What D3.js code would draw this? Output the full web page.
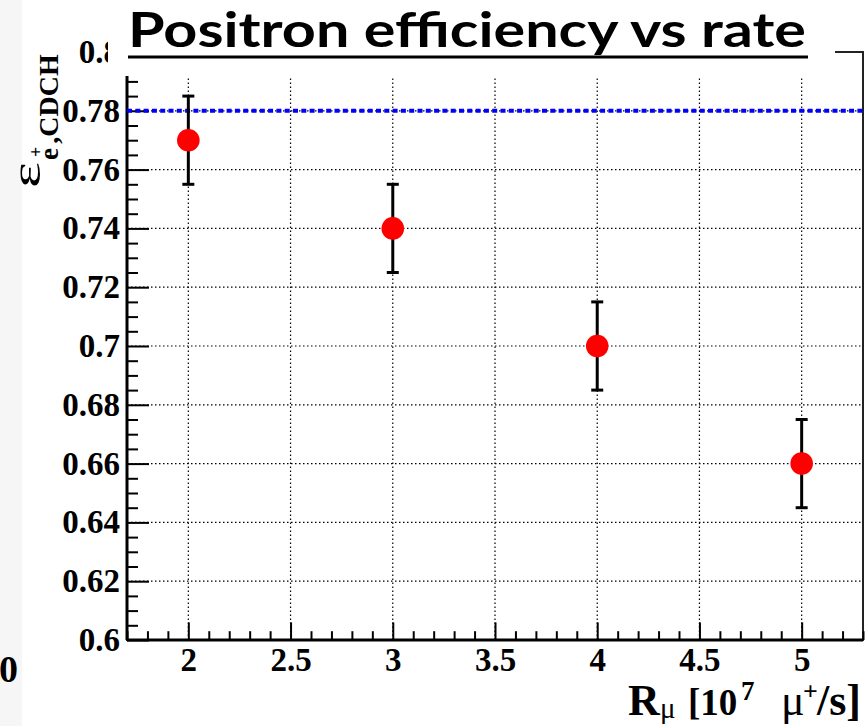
<!DOCTYPE html>
<html><head><meta charset="utf-8">
<script src="https://cdn.jsdelivr.net/npm/d3@7"></script>
<style>
html,body{margin:0;padding:0;background:#fff;}
svg{display:block;}
</style></head>
<body>
<svg id="chart" width="868" height="726"></svg>
<script>
// ---- data ----
const rates = [2, 3, 4, 5];                 // R_mu [10^7 mu+/s]
const efficiencies = [0.77, 0.74, 0.70, 0.66];
const errors = [0.015, 0.015, 0.015, 0.015];
const referenceLevel = [0.78];
const xTickValues = [2, 2.5, 3, 3.5, 4, 4.5, 5];
const xTickLabels = ["2", "2.5", "3", "3.5", "4", "4.5", "5"];
const yTickValues = [0.6, 0.62, 0.64, 0.66, 0.68, 0.7, 0.72, 0.74, 0.76, 0.78, 0.8];
const yTickLabels = ["0.6", "0.62", "0.64", "0.66", "0.68", "0.7", "0.72", "0.74", "0.76", "0.78", "0.8"];
const titleText = "Positron efficiency vs rate";

const svg = d3.select("#chart");
const L = 127, R = 863, T = 52, B = 640;
const x = d3.scaleLinear().domain([1.7, 5.3]).range([L, R]);
const y = d3.scaleLinear().domain([0.6, 0.8]).range([B, T]);
const serif = "'Liberation Serif', 'Times New Roman', serif";

// left slide strip
svg.append("rect").attr("x", 0).attr("y", 0).attr("width", 22).attr("height", 726).attr("fill", "#f6f6f6");

// grid
const grid = svg.append("g").attr("stroke", "#000").attr("stroke-width", 1.2).attr("stroke-dasharray", "1.5,2.5");
grid.selectAll("line.v").data(xTickValues).join("line").attr("class", "v")
  .attr("x1", d => x(d)).attr("x2", d => x(d)).attr("y1", B).attr("y2", T);
grid.selectAll("line.h").data(yTickValues.filter(v => v > 0.6 && v < 0.8)).join("line").attr("class", "h")
  .attr("y1", d => y(d)).attr("y2", d => y(d)).attr("x1", L).attr("x2", R);

// frame (top/right)
svg.append("rect").attr("x", L).attr("y", T).attr("width", R - L).attr("height", B - T)
  .attr("fill", "none").attr("stroke", "#222").attr("stroke-width", 2);

// minor ticks
const xMinor = d3.range(17, 54).map(v => v / 10).filter(v => Math.abs(v * 2 - Math.round(v * 2)) > 1e-6);
const yMinor = d3.range(120, 161).map(v => v / 200).filter(v => Math.abs(v * 50 - Math.round(v * 50)) > 1e-6);
svg.append("g").attr("transform", `translate(0,${B})`)
  .call(d3.axisBottom(x).tickValues(xMinor).tickSize(-8.8).tickFormat(""))
  .call(g => g.select(".domain").remove())
  .call(g => g.selectAll("line").attr("stroke", "#000").attr("stroke-width", 2));
svg.append("g").attr("transform", `translate(${L},0)`)
  .call(d3.axisLeft(y).tickValues(yMinor).tickSize(-11).tickFormat(""))
  .call(g => g.select(".domain").remove())
  .call(g => g.selectAll("line").attr("stroke", "#000").attr("stroke-width", 2));

// major axes
const xAxis = svg.append("g").attr("transform", `translate(0,${B})`)
  .call(d3.axisBottom(x).tickValues(xTickValues).tickSize(-17.6).tickPadding(8)
    .tickFormat((d, i) => xTickLabels[i]).tickSizeOuter(0));
xAxis.select(".domain").attr("stroke", "#000").attr("stroke-width", 3).attr("d", `M${L},0H${R}`);
xAxis.selectAll("line").attr("stroke", "#000").attr("stroke-width", 2);
xAxis.selectAll("text").attr("font-family", serif).attr("font-weight", "bold").attr("font-size", 33).attr("fill", "#000");

const yAxis = svg.append("g").attr("transform", `translate(${L},0)`)
  .call(d3.axisLeft(y).tickValues(yTickValues).tickSize(-22).tickPadding(7)
    .tickFormat((d, i) => yTickLabels[i]).tickSizeOuter(0));
yAxis.select(".domain").attr("stroke", "#000").attr("stroke-width", 3).attr("d", `M0,${B}V${T}`);
yAxis.selectAll("line").attr("stroke", "#000").attr("stroke-width", 2);
yAxis.selectAll("text").attr("font-family", serif).attr("font-weight", "bold").attr("font-size", 33).attr("fill", "#000");

// reference line
svg.selectAll("line.ref").data(referenceLevel).join("line").attr("class", "ref")
  .attr("x1", L).attr("x2", R).attr("y1", d => y(d)).attr("y2", d => y(d))
  .attr("stroke", "#0000ff").attr("stroke-width", 4).attr("stroke-dasharray", "5,3.3");

// error bars + markers
const pts = rates.map((r, i) => ({ r, v: efficiencies[i], e: errors[i] }));
const eb = svg.append("g").attr("stroke", "#000").attr("stroke-width", 3);
eb.selectAll("line.bar").data(pts).join("line").attr("class", "bar")
  .attr("x1", d => x(d.r)).attr("x2", d => x(d.r)).attr("y1", d => y(d.v - d.e)).attr("y2", d => y(d.v + d.e));
eb.selectAll("line.capt").data(pts).join("line").attr("class", "capt")
  .attr("x1", d => x(d.r) - 6).attr("x2", d => x(d.r) + 6).attr("y1", d => y(d.v + d.e)).attr("y2", d => y(d.v + d.e));
eb.selectAll("line.capb").data(pts).join("line").attr("class", "capb")
  .attr("x1", d => x(d.r) - 6).attr("x2", d => x(d.r) + 6).attr("y1", d => y(d.v - d.e)).attr("y2", d => y(d.v - d.e));
svg.selectAll("circle.pt").data(pts).join("circle").attr("class", "pt")
  .attr("cx", d => x(d.r)).attr("cy", d => y(d.v)).attr("r", 11.3).attr("fill", "#ff0000");

// title cover box
svg.append("rect").attr("x", 108).attr("y", 0).attr("width", 727).attr("height", 76).attr("fill", "#fff");
svg.append("text").attr("x", 128).attr("y", 47)
  .attr("font-family", "Lato, 'Open Sans', sans-serif").attr("font-weight", "bold").attr("font-size", 47)
  .attr("textLength", 678).attr("lengthAdjust", "spacingAndGlyphs").attr("fill", "#000").text(titleText);
svg.append("rect").attr("x", 128).attr("y", 55.5).attr("width", 680).attr("height", 3).attr("fill", "#000");

// y-axis title (rotated)
const yt = svg.append("text").attr("transform", "translate(40,188) rotate(-90)")
  .attr("font-family", serif).attr("font-weight", "bold").attr("fill", "#000");
yt.append("tspan").attr("font-size", 40).attr("font-weight", "normal")
  .attr("textLength", 26).attr("lengthAdjust", "spacingAndGlyphs").text("ε");
yt.append("tspan").attr("font-size", 27).attr("dy", 18).attr("dx", 2).text("e");
yt.append("tspan").attr("font-size", 18).attr("dy", -16).attr("dx", -9).text("+");
yt.append("tspan").attr("font-size", 28).attr("dy", 16).attr("dx", 3).text(",CDCH");

// x-axis title
const xt = svg.append("text").attr("y", 715)
  .attr("font-family", serif).attr("font-weight", "bold").attr("fill", "#000").attr("font-size", 44);
xt.append("tspan").attr("x", 628).text("R");
xt.append("tspan").attr("x", 660).attr("font-size", 29).attr("font-weight", "normal").attr("dy", 3).text("μ");
xt.append("tspan").attr("x", 688).attr("dy", -3).attr("font-size", 37).text("[10");
xt.append("tspan").attr("x", 741).attr("font-size", 27).attr("dy", -15).text("7");
xt.append("tspan").attr("x", 781).attr("dy", 15).attr("font-weight", "normal").text("μ");
xt.append("tspan").attr("x", 803).attr("font-size", 26).attr("dy", -15).text("+");
xt.append("tspan").attr("x", 817).attr("dy", 15).text("/s]");

// cropped label at left edge
svg.append("text").attr("x", 18).attr("y", 682).attr("text-anchor", "end")
  .attr("font-family", serif).attr("font-weight", "bold").attr("font-size", 38).attr("fill", "#000").text("0");
</script>
</body></html>
